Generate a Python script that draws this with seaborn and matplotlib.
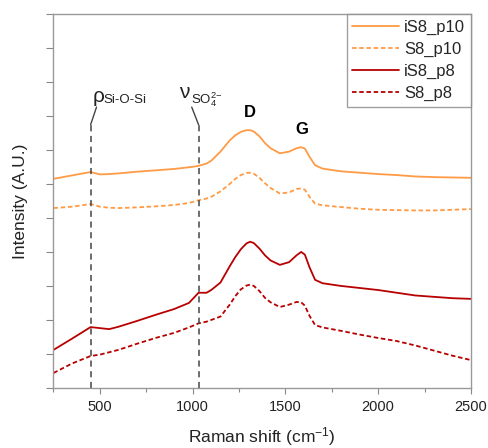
import matplotlib
matplotlib.use("Agg")
import matplotlib.pyplot as plt
import seaborn as sns
import pandas as pd
from matplotlib.ticker import MultipleLocator

# ---------------- data ----------------
raman_shift = [250, 350, 450, 500, 550, 600, 700, 800, 900, 980, 1032, 1075, 1100,
               1150, 1200, 1230, 1260, 1290, 1310, 1330, 1360, 1390, 1420, 1470, 1520, 1560,
               1585, 1605, 1630, 1660, 1700, 1800, 1900, 2000, 2100, 2200, 2300, 2400, 2500]

iS8_p10 = [6.15, 6.25, 6.35, 6.28, 6.29, 6.31, 6.36, 6.40, 6.44, 6.49, 6.53, 6.60, 6.68,
           6.95, 7.28, 7.43, 7.53, 7.58, 7.58, 7.54, 7.40, 7.20, 7.05, 6.90, 6.95, 7.05,
           7.08, 7.04, 6.80, 6.55, 6.45, 6.37, 6.33, 6.29, 6.26, 6.22, 6.20, 6.19, 6.18]

S8_p10 = [5.29, 5.33, 5.41, 5.33, 5.30, 5.29, 5.31, 5.34, 5.38, 5.44, 5.52, 5.57, 5.62,
          5.78, 6.00, 6.15, 6.26, 6.32, 6.33, 6.30, 6.18, 6.02, 5.88, 5.72, 5.75, 5.85,
          5.87, 5.83, 5.62, 5.42, 5.37, 5.32, 5.27, 5.24, 5.23, 5.22, 5.22, 5.24, 5.26]

iS8_p8 = [1.12, 1.45, 1.79, 1.76, 1.73, 1.80, 1.97, 2.15, 2.32, 2.50, 2.80, 2.80, 2.88,
          3.10, 3.58, 3.85, 4.08, 4.25, 4.30, 4.26, 4.10, 3.90, 3.75, 3.62, 3.70, 3.90,
          4.00, 3.92, 3.55, 3.18, 3.08, 3.00, 2.94, 2.88, 2.80, 2.72, 2.68, 2.64, 2.62]

S8_p8 = [0.44, 0.72, 0.94, 0.98, 1.05, 1.12, 1.30, 1.47, 1.62, 1.78, 1.90, 1.95, 2.00,
         2.10, 2.45, 2.70, 2.90, 3.01, 3.04, 3.00, 2.85, 2.65, 2.52, 2.38, 2.45, 2.53,
         2.52, 2.42, 2.12, 1.85, 1.78, 1.68, 1.57, 1.47, 1.38, 1.25, 1.10, 0.95, 0.82]

series_names = ["iS8_p10", "S8_p10", "iS8_p8", "S8_p8"]
band_positions = [450, 1032]          # ρ Si-O-Si, ν SO4^2-
peak_labels = ["D", "G"]
peak_positions = [1306, 1586]
x_ticks = [500, 1000, 1500, 2000, 2500]

# ---------------- style ----------------
sns.set_theme(style="ticks")
plt.rcParams["font.family"] = ["Liberation Sans", "DejaVu Sans"]
plt.rcParams["mathtext.fontset"] = "custom"
plt.rcParams["mathtext.rm"] = "Liberation Sans"
plt.rcParams["mathtext.it"] = "Liberation Sans:italic"

orange = "#FF9A45"
red = "#B80000"
colors = [orange, orange, red, red]
dashes = ["-", (0, (2.5, 1.5)), "-", (0, (2.5, 1.5))]
all_vals = [iS8_p10, S8_p10, iS8_p8, S8_p8]

fig = plt.figure(figsize=(4.89, 4.48), dpi=100)
ax = fig.add_axes([0.1094, 0.134, 0.8536, 0.835])

for name, vals, c, ls in zip(series_names, all_vals, colors, dashes):
    df = pd.DataFrame({"x": raman_shift, "y": vals})
    sns.lineplot(data=df, x="x", y="y", ax=ax, color=c, linestyle=ls,
                 linewidth=1.3, label=name)

# band marker lines
gray = "#444444"
for bx in band_positions:
    ax.plot([bx, bx], [0, 7.74], color=gray, linestyle=(0, (4, 3)), linewidth=1.1)
ax.plot([band_positions[0], 482], [7.74, 8.26], color=gray, linewidth=1.0)
ax.plot([995, band_positions[1]], [8.26, 7.74], color=gray, linewidth=1.0)

ax.text(462, 8.56, "ρ", fontsize=15, ha="left", va="center", color="#222222")
ax.text(521, 8.47, "Si-O-Si", fontsize=9.5, ha="left", va="center", color="#222222")
ax.text(925, 8.68, "ν", fontsize=15, ha="left", va="center", color="#222222")
ax.text(993, 8.47, r"SO$_4^{2\mathrm{-}}$", fontsize=9.5, ha="left", va="center",
        color="#222222")

for lab, px, py in zip(peak_labels, peak_positions, [8.09, 7.59]):
    ax.text(px, py, lab, fontsize=12, fontweight="bold", ha="center", va="center",
            color="black")

# axes
ax.set_xlim(250, 2500)
ax.set_ylim(0, 11)
ax.set_xticks(x_ticks)
ax.xaxis.set_minor_locator(MultipleLocator(250))
ax.yaxis.set_major_locator(MultipleLocator(1))
ax.set_yticklabels([])
ax.tick_params(axis="x", which="major", length=4, width=0.8, color="#888888",
               labelsize=10.5, pad=5, labelcolor="#222222")
ax.tick_params(axis="x", which="minor", length=3, width=0.8, color="#888888")
ax.tick_params(axis="y", which="major", length=5, width=0.8, color="#888888")
for sp in ax.spines.values():
    sp.set_color("#999999")
    sp.set_linewidth(1.0)
    sp.set_visible(True)

ax.set_xlabel(r"Raman shift (cm$^{-1}$)", fontsize=12.5, color="#222222", labelpad=8)
ax.set_ylabel("Intensity (A.U.)", fontsize=12.5, color="#222222", labelpad=10)

leg = ax.legend(loc="upper right", fontsize=12, frameon=True, fancybox=False,
                borderaxespad=0.0, handlelength=2.8, handletextpad=0.3,
                labelspacing=0.42, borderpad=0.35)
leg.get_frame().set_edgecolor("#888888")
leg.get_frame().set_linewidth(1.0)

fig.savefig("out.png", dpi=100)
